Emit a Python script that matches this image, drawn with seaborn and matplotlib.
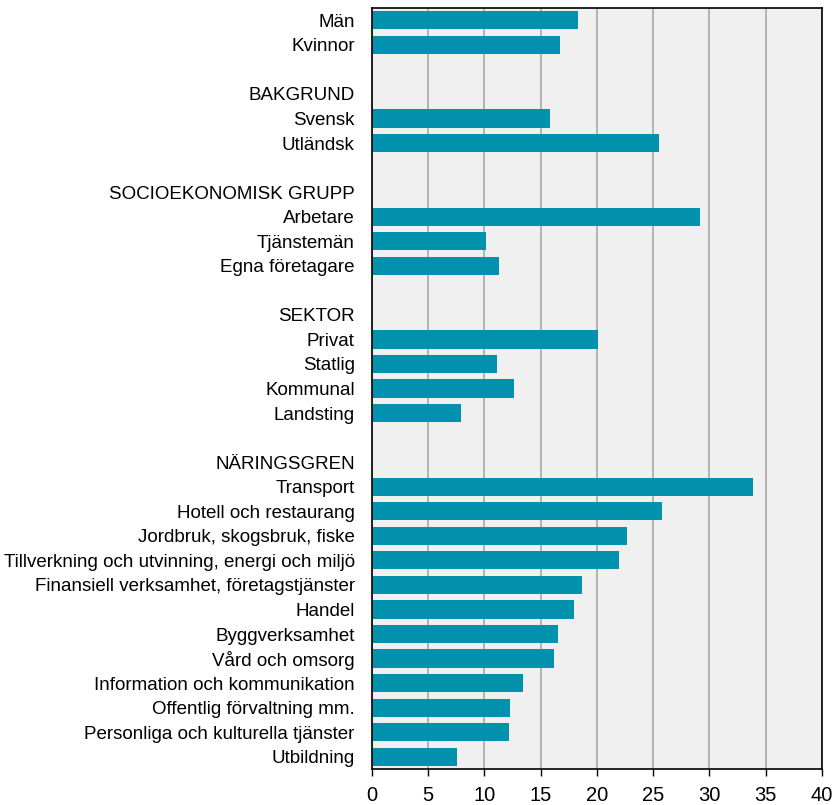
import numpy as np
import pandas as pd
import seaborn as sns
import matplotlib.pyplot as plt

labels = ['Män', 'Kvinnor', ' ',
          'BAKGRUND', 'Svensk', 'Utländsk', '  ',
          'SOCIOEKONOMISK GRUPP', 'Arbetare', 'Tjänstemän', 'Egna företagare', '   ',
          'SEKTOR', 'Privat', 'Statlig', 'Kommunal', 'Landsting', '    ',
          'NÄRINGSGREN', 'Transport', 'Hotell och restaurang', 'Jordbruk, skogsbruk, fiske',
          'Tillverkning och utvinning, energi och miljö',
          'Finansiell verksamhet, företagstjänster', 'Handel', 'Byggverksamhet',
          'Vård och omsorg', 'Information och kommunikation', 'Offentlig förvaltning mm.',
          'Personliga och kulturella tjänster', 'Utbildning']
values = [18.3, 16.7, np.nan,
          np.nan, 15.8, 25.5, np.nan,
          np.nan, 29.2, 10.1, 11.3, np.nan,
          np.nan, 20.1, 11.1, 12.6, 7.9, np.nan,
          np.nan, 33.9, 25.8, 22.7, 22.0, 18.7, 18.0, 16.5, 16.2, 13.4, 12.3, 12.2, 7.6]

df = pd.DataFrame({'label': labels, 'value': values})

sns.set_style('white')
plt.rcParams['font.family'] = ['Liberation Sans', 'DejaVu Sans']
plt.rcParams['text.color'] = 'black'
plt.rcParams['xtick.color'] = 'black'
plt.rcParams['ytick.color'] = 'black'

fig = plt.figure(figsize=(8.35, 8.05), dpi=100)
ax = fig.add_axes([0.4455, 0.0447, 0.5389, 0.9453])
ax.set_facecolor('#f0f0f0')
sns.barplot(data=df, x='value', y='label', order=labels, orient='h',
            color='#0392ae', saturation=1, width=0.74, linewidth=0, ax=ax)

ax.set_xlim(0, 40)
ax.set_ylim(len(labels) - 0.5, -0.5)
ax.set_xticks(range(0, 41, 5))
ax.xaxis.grid(True, color='#a8a8a8', linewidth=1.2)
ax.set_axisbelow(True)
ax.set_xlabel('')
ax.set_ylabel('')
ax.tick_params(axis='x', bottom=True, length=5, width=1, labelsize=14.5,
               color='black', labelcolor='black', pad=7)
ax.tick_params(axis='y', left=False, labelsize=13.5, pad=9, labelcolor='black')
for s in ax.spines.values():
    s.set_color('black')
    s.set_linewidth(1.2)

fig.savefig('out.png', dpi=100)
